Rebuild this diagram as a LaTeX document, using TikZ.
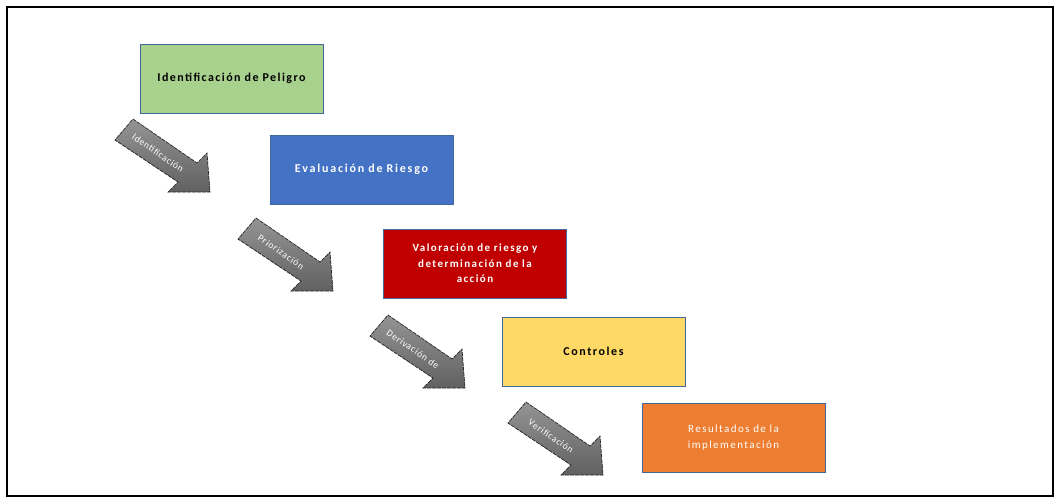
\documentclass[tikz,border=0pt]{standalone}
\usepackage{fontspec}
\setmainfont{Carlito}
\definecolor{boxline}{HTML}{41699F}
\definecolor{cgreen}{HTML}{A9D18E}
\definecolor{cblue}{HTML}{4472C4}
\definecolor{cred}{HTML}{C00000}
\definecolor{cyellow}{HTML}{FFD966}
\definecolor{corange}{HTML}{ED7D31}
\tikzset{
  stepbox/.style={draw=boxline, line width=0.8pt, minimum width=183pt, minimum height=69pt,
    inner sep=2pt, align=center, text width=178pt,
    font=\fontsize{12}{15}\selectfont\bfseries\addfontfeature{LetterSpace=12}},
  blockarrow/.style={top color=black!42, bottom color=black!62, shading angle=0,
    draw=black!85, line width=0.7pt, dash pattern=on 4pt off 1pt},
  arrowtext/.style={text=white, font=\fontsize{9.5}{10}\selectfont\addfontfeature{LetterSpace=8},
    rotate=-34.5, inner sep=0pt}
}
\newcommand{\mkarrow}[3]{%
  \begin{scope}[shift={(#1)}]
    \path[blockarrow] (-77,-73) -- (-13,-29) -- (-3,-39) -- (0,0) -- (-42,0) -- (-32,-10) -- (-95,-52) -- cycle;
    \node[arrowtext] (#2) at (-52,-39) {#3};
  \end{scope}}
\begin{document}
\begin{tikzpicture}[x=1pt,y=-1pt]
\useasboundingbox (0,0) rectangle (1057,500);
\draw[line width=2pt] (7,7) rectangle (1053,496);

\node[stepbox, fill=cgreen, text=black] (b1) at (231.5,78.5) {Identificación de Peligro};
\node[stepbox, fill=cblue, text=white, font=\fontsize{12}{15}\selectfont\bfseries\addfontfeature{LetterSpace=15}] (b2) at (361.5,169.5) {Evaluación de Riesgo};
\node[stepbox, fill=cred, text=white, font=\fontsize{11}{15.5}\selectfont\bfseries\addfontfeature{LetterSpace=13}] (b3) at (475,263.5)
  {Valoración de riesgo y\\ determinación de la\\ acción};
\node[stepbox, fill=cyellow, text=black, font=\fontsize{12}{15}\selectfont\bfseries\addfontfeature{LetterSpace=13}] (b4) at (593.5,351.5) {Controles};
\node[stepbox, fill=corange, text=white, font=\fontsize{11}{16}\selectfont\addfontfeature{LetterSpace=13}] (b5) at (733.5,437.5)
  {Resultados de la\\ implementación};

\coordinate (t1) at (210,192);
\coordinate (t2) at (333,291);
\coordinate (t3) at (465,388);
\coordinate (t4) at (603,475);
\mkarrow{t1}{a1}{Identificación}
\mkarrow{t2}{a2}{Priorización}
\mkarrow{t3}{a3}{Derivación de}
\mkarrow{t4}{a4}{Verificación}
\end{tikzpicture}
\end{document}
